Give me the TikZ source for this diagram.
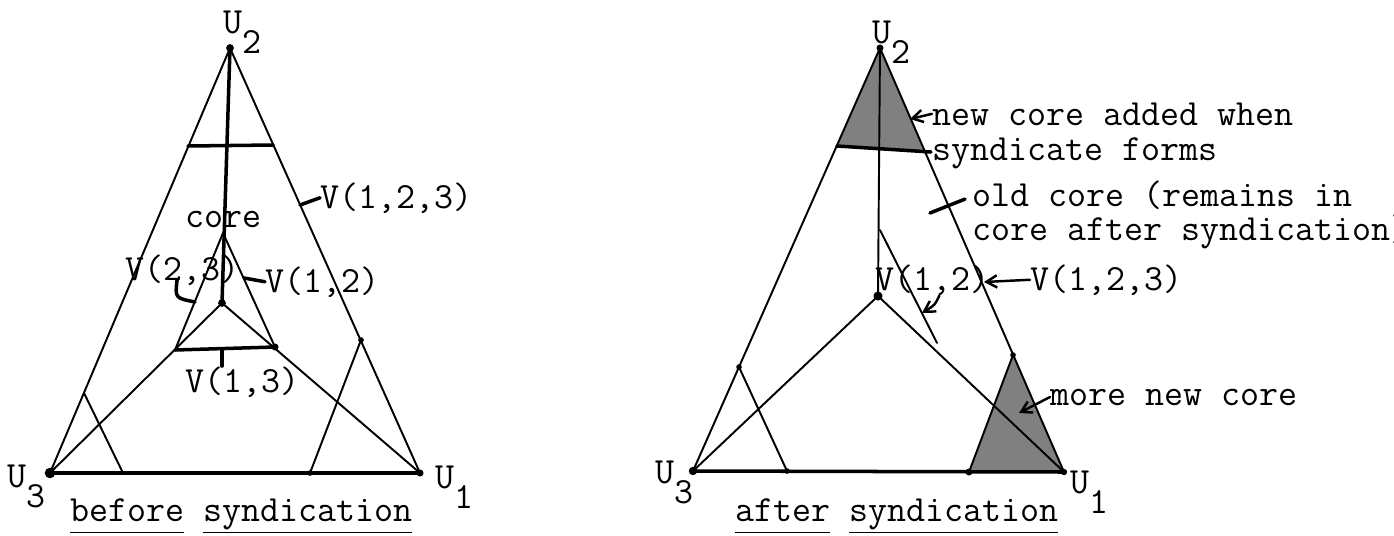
\documentclass[tikz,border=0pt]{standalone}
\usepackage{fontspec}
\usetikzlibrary{arrows.meta}

\tikzset{
	lbl/.style={font=\ttfamily\fontsize{21}{22}\selectfont, inner sep=0pt, anchor=base west},
	edge/.style={line width=1.1pt},
	bold/.style={line width=2pt},
	lead/.style={line width=1.4pt, -{Straight Barb[length=6pt,width=7pt]}},
	newcore/.style={fill=black!50},
}
\newcommand{\usub}[1]{U\raisebox{-0.55em}{#1}}
\newcommand{\ul}[1]{\underline{#1\vphantom{y}}}

\begin{document}
\begin{tikzpicture}[x=0.02cm, y=-0.02cm, line join=round, line cap=round]
				\useasboundingbox (0,0) rectangle (1394,535);
				% before syndication
				\coordinate (A2) at (230,48);
				\coordinate (A3) at (50,473);
				\coordinate (A1) at (420,473);
				\coordinate (O) at (222,303);
				\coordinate (P) at (223,233);
				\coordinate (Q) at (175,350);
				\coordinate (R) at (275,347);
				\coordinate (S1) at (188,146);
				\coordinate (S2) at (273,145);
				\coordinate (E) at (84,393);
				\coordinate (F) at (123,473);
				\coordinate (G) at (361,340);
				\coordinate (H) at (310,473);
				\coordinate (K) at (300,205);
				\coordinate (T) at (195,302);
				\coordinate (M) at (244,278);
				\coordinate (N) at (222,349);
				\draw[edge] (A3) -- (A2) -- (A1);
				\draw[bold] (A3) -- (A1);
				\draw[bold] (A2) -- (O);
				\draw[edge] (A3) -- (O) -- (A1);
				\draw[bold] (S1) -- (S2);
				\draw[edge] (Q) -- (P) -- (R);
				\draw[bold] (Q) -- (R);
				\draw[edge] (E) -- (F);
				\draw[edge] (G) -- (H);
				\fill (A2) circle (2.2pt);
				\fill (A3) circle (3pt);
				\fill (A1) circle (2pt);
				\fill (O) circle (2.2pt);
				\fill (R) circle (2pt);
				\fill (G) circle (1.6pt);
				\fill (H) circle (1.6pt);
				\node[lbl] (lu2) at (223,33) {\usub{2}};
				\node[lbl] (lu3) at (7,487) {\usub{3}};
				\node[lbl] (lu1) at (435,488) {\usub{1}};
				\node[lbl] (core) at (185,227) {core};
				\node[lbl] (v123) at (320,208) {V(1,2,3)};
				\node[lbl] (v23) at (125,280) {V(2,3)};
				\node[lbl] (v12) at (265,292) {V(1,2)};
				\node[lbl] (v13) at (185,392) {V(1,3)};
				\node[lbl] (before) at (70,521) {\ul{before} \ul{syndication}};
				\draw[bold] (K) -- (v123.west);
				\draw[bold] ([xshift=-3pt]v23.base) .. controls (175,298) .. (T);
				\draw[bold] (M) -- (v12.west);
				\draw[bold] (N) -- (N |- v13.north);
				% after syndication
				\coordinate (B2) at (880,48);
				\coordinate (B3) at (693,471);
				\coordinate (B1) at (1064,472);
				\coordinate (Bo) at (878,296);
				\coordinate (C1) at (880,230);
				\coordinate (C2) at (937,343);
				\coordinate (C3) at (922,313);
				\coordinate (D1) at (739,367);
				\coordinate (D2) at (787,471);
				\coordinate (F1) at (1013,355);
				\coordinate (F2) at (969,472);
				\coordinate (W1) at (837,146);
				\coordinate (W2) at (925,152);
				\coordinate (W3) at (931,152);
				\coordinate (X1) at (910,119);
				\coordinate (X2) at (930,213);
				\coordinate (X3) at (984,282);
				\coordinate (X4) at (1019,413);
				\fill[newcore] (B2) -- (W1) -- (W2) -- cycle;
				\fill[newcore] (F1) -- (F2) -- (B1) -- cycle;
				\draw[edge] (B3) -- (B2) -- (B1);
				\draw[bold] (B3) -- (B1);
				\draw[edge] (B2) -- (Bo);
				\draw[edge] (B3) -- (Bo) -- (B1);
				\draw[bold] (W1) -- (W3);
				\draw[edge] (C1) -- (C2);
				\draw[edge] (D1) -- (D2);
				\draw[edge] (F1) -- (F2);
				\fill (B2) circle (2pt);
				\fill (B3) circle (2.4pt);
				\fill (B1) circle (1.8pt);
				\fill (Bo) circle (2.6pt);
				\fill (D1) circle (1.6pt);
				\fill (D2) circle (1.6pt);
				\fill (F1) circle (1.6pt);
				\fill (F2) circle (2pt);
				\node[lbl] (ru2) at (872,43) {\usub{2}};
				\node[lbl] (ru3) at (655,483) {\usub{3}};
				\node[lbl] (ru1) at (1070,493) {\usub{1}};
				\node[lbl] (new1) at (932,125) {new core added when};
				\node[lbl] (new2) at (932,160) {syndicate forms};
				\node[lbl, align=left, font=\ttfamily\fontsize{21}{18.8}\selectfont] (old) at (972,240)
					{old core (remains in\\core after syndication)};
				\node[lbl] (w12) at (875,290) {V(1,2)};
				\node[lbl] (w123) at (1030,290) {V(1,2,3)};
				\node[lbl] (more) at (1050,405) {more new core};
				\node[lbl] (after) at (735,521) {\ul{after} \ul{syndication}};
				\draw[lead] (new1.west) -- (X1);
				\draw[bold] (X2) -- ([xshift=-4pt,yshift=9pt]old.west);
				\draw[lead] ([xshift=4pt]w12.south) .. controls (935,305) .. (C3);
				\draw[lead] (w123.west) -- (X3);
				\draw[lead] (more.west) -- (X4);
			\end{tikzpicture}
\end{document}
